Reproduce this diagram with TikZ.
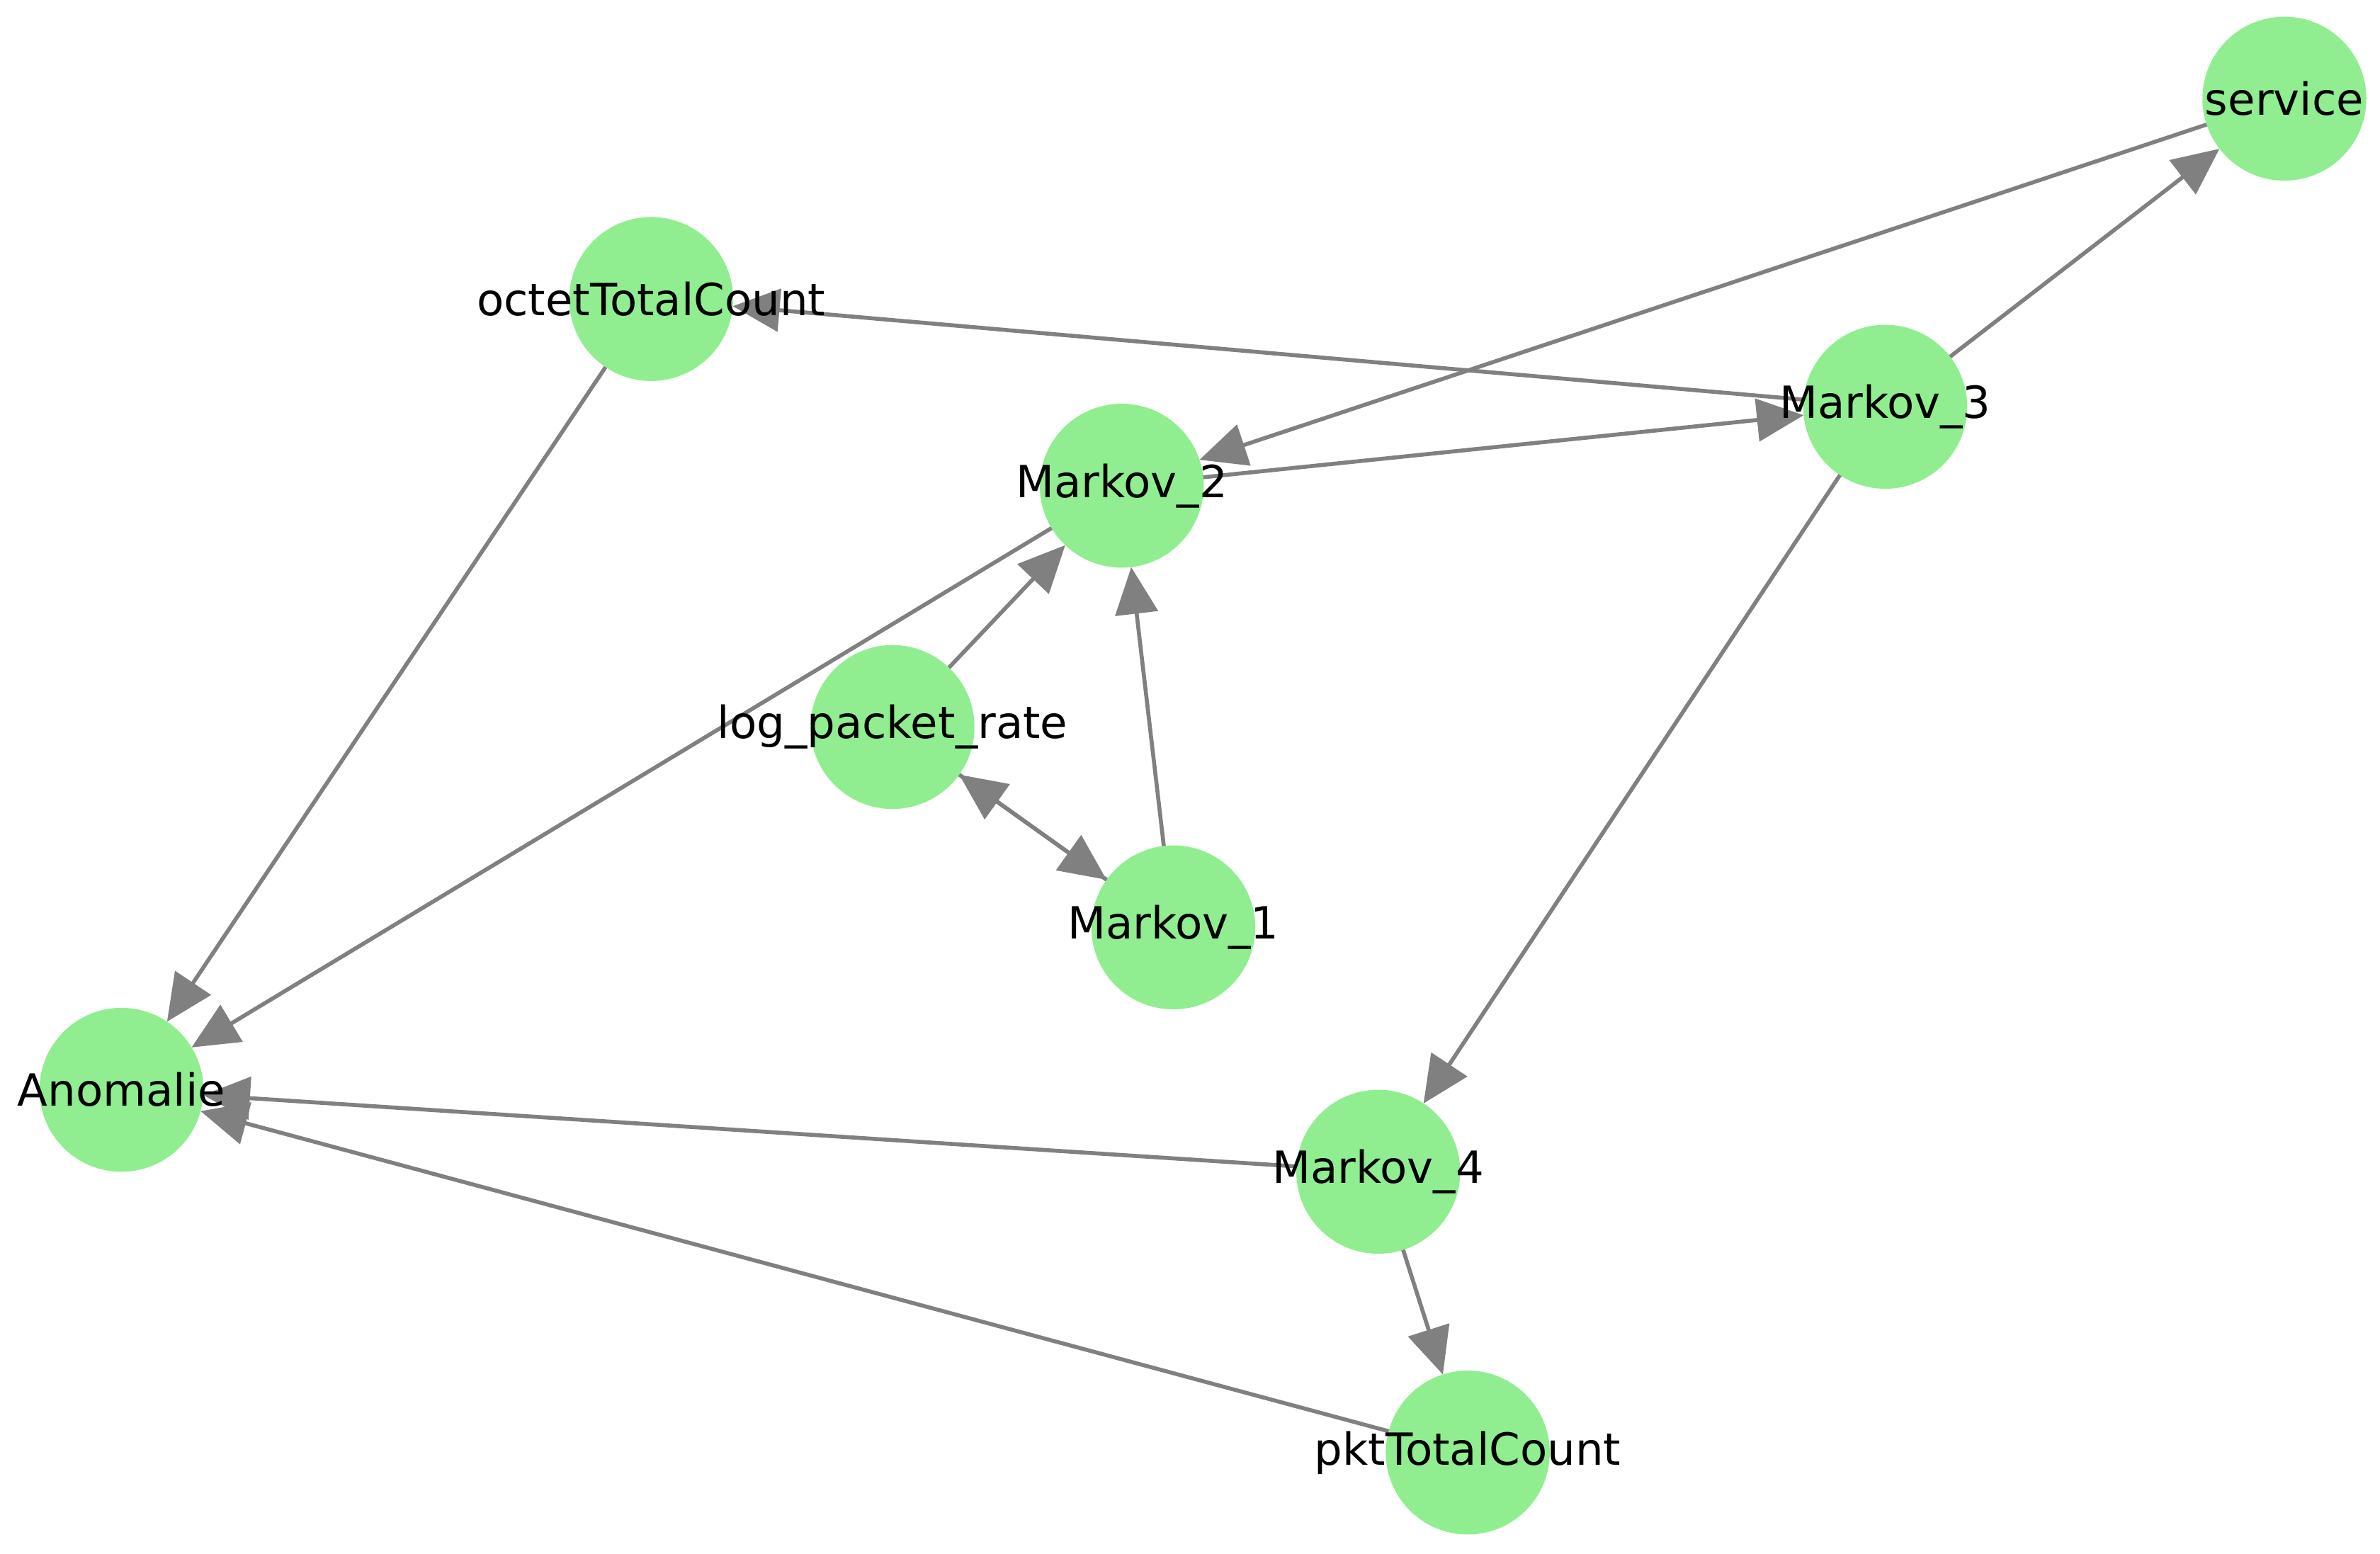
\documentclass[tikz,border=0pt]{standalone}
\usepackage{fontspec}
\setmainfont{DejaVu Sans}
\usetikzlibrary{arrows.meta}
\definecolor{nodegreen}{RGB}{144,238,144}
\definecolor{edgegray}{RGB}{128,128,128}
\begin{document}
\begin{tikzpicture}[x=0.0214286cm,y=-0.0214286cm,
  circ/.style={circle,fill=nodegreen,minimum size=2.314cm,inner sep=0pt,outer sep=0pt},
  lbl/.style={font=\fontsize{17.8}{20}\selectfont,inner sep=0pt,text=black},
  edge/.style={draw=edgegray,line width=1.6pt,-{Triangle[length=0.66cm,width=0.6cm]}}]
\useasboundingbox (0,0) rectangle (1568,1023.4);
% nodes
\node[circ] (svc) at (1505,65) {};
\node[circ] (oct) at (429,197) {};
\node[circ] (m3) at (1242,268) {};
\node[circ] (m2) at (739,320) {};
\node[circ] (lpr) at (588,479) {};
\node[circ] (m1) at (773,611) {};
\node[circ] (an) at (80,718) {};
\node[circ] (m4) at (908,772) {};
\node[circ] (pkt) at (967,957) {};
% edges
\draw[edge] (svc) -- (m2);
\draw[edge] (m3) -- (svc);
\draw[edge] (m3) -- (oct);
\draw[edge] (m2) -- (m3);
\draw[edge] (m2) -- (an);
\draw[edge] (lpr) -- (m2);
\draw[edge] (m1) -- (m2);
\draw[edge] (lpr) -- (m1);
\draw[edge] (m1) -- (lpr);
\draw[edge] (oct) -- (an);
\draw[edge] (m3) -- (m4);
\draw[edge] (m4) -- (an);
\draw[edge] (m4) -- (pkt);
\draw[edge] (pkt) -- (an);
% labels
\node[lbl] (svc-l) at (svc.center) {service};
\node[lbl] (oct-l) at (oct.center) {octetTotalCount};
\node[lbl] (m3-l) at (m3.center) {Markov\_3};
\node[lbl] (m2-l) at (m2.center) {Markov\_2};
\node[lbl] (lpr-l) at (lpr.center) {log\_packet\_rate};
\node[lbl] (m1-l) at (m1.center) {Markov\_1};
\node[lbl] (an-l) at (an.center) {Anomalie};
\node[lbl] (m4-l) at (m4.center) {Markov\_4};
\node[lbl] (pkt-l) at (pkt.center) {pktTotalCount};
\end{tikzpicture}
\end{document}
